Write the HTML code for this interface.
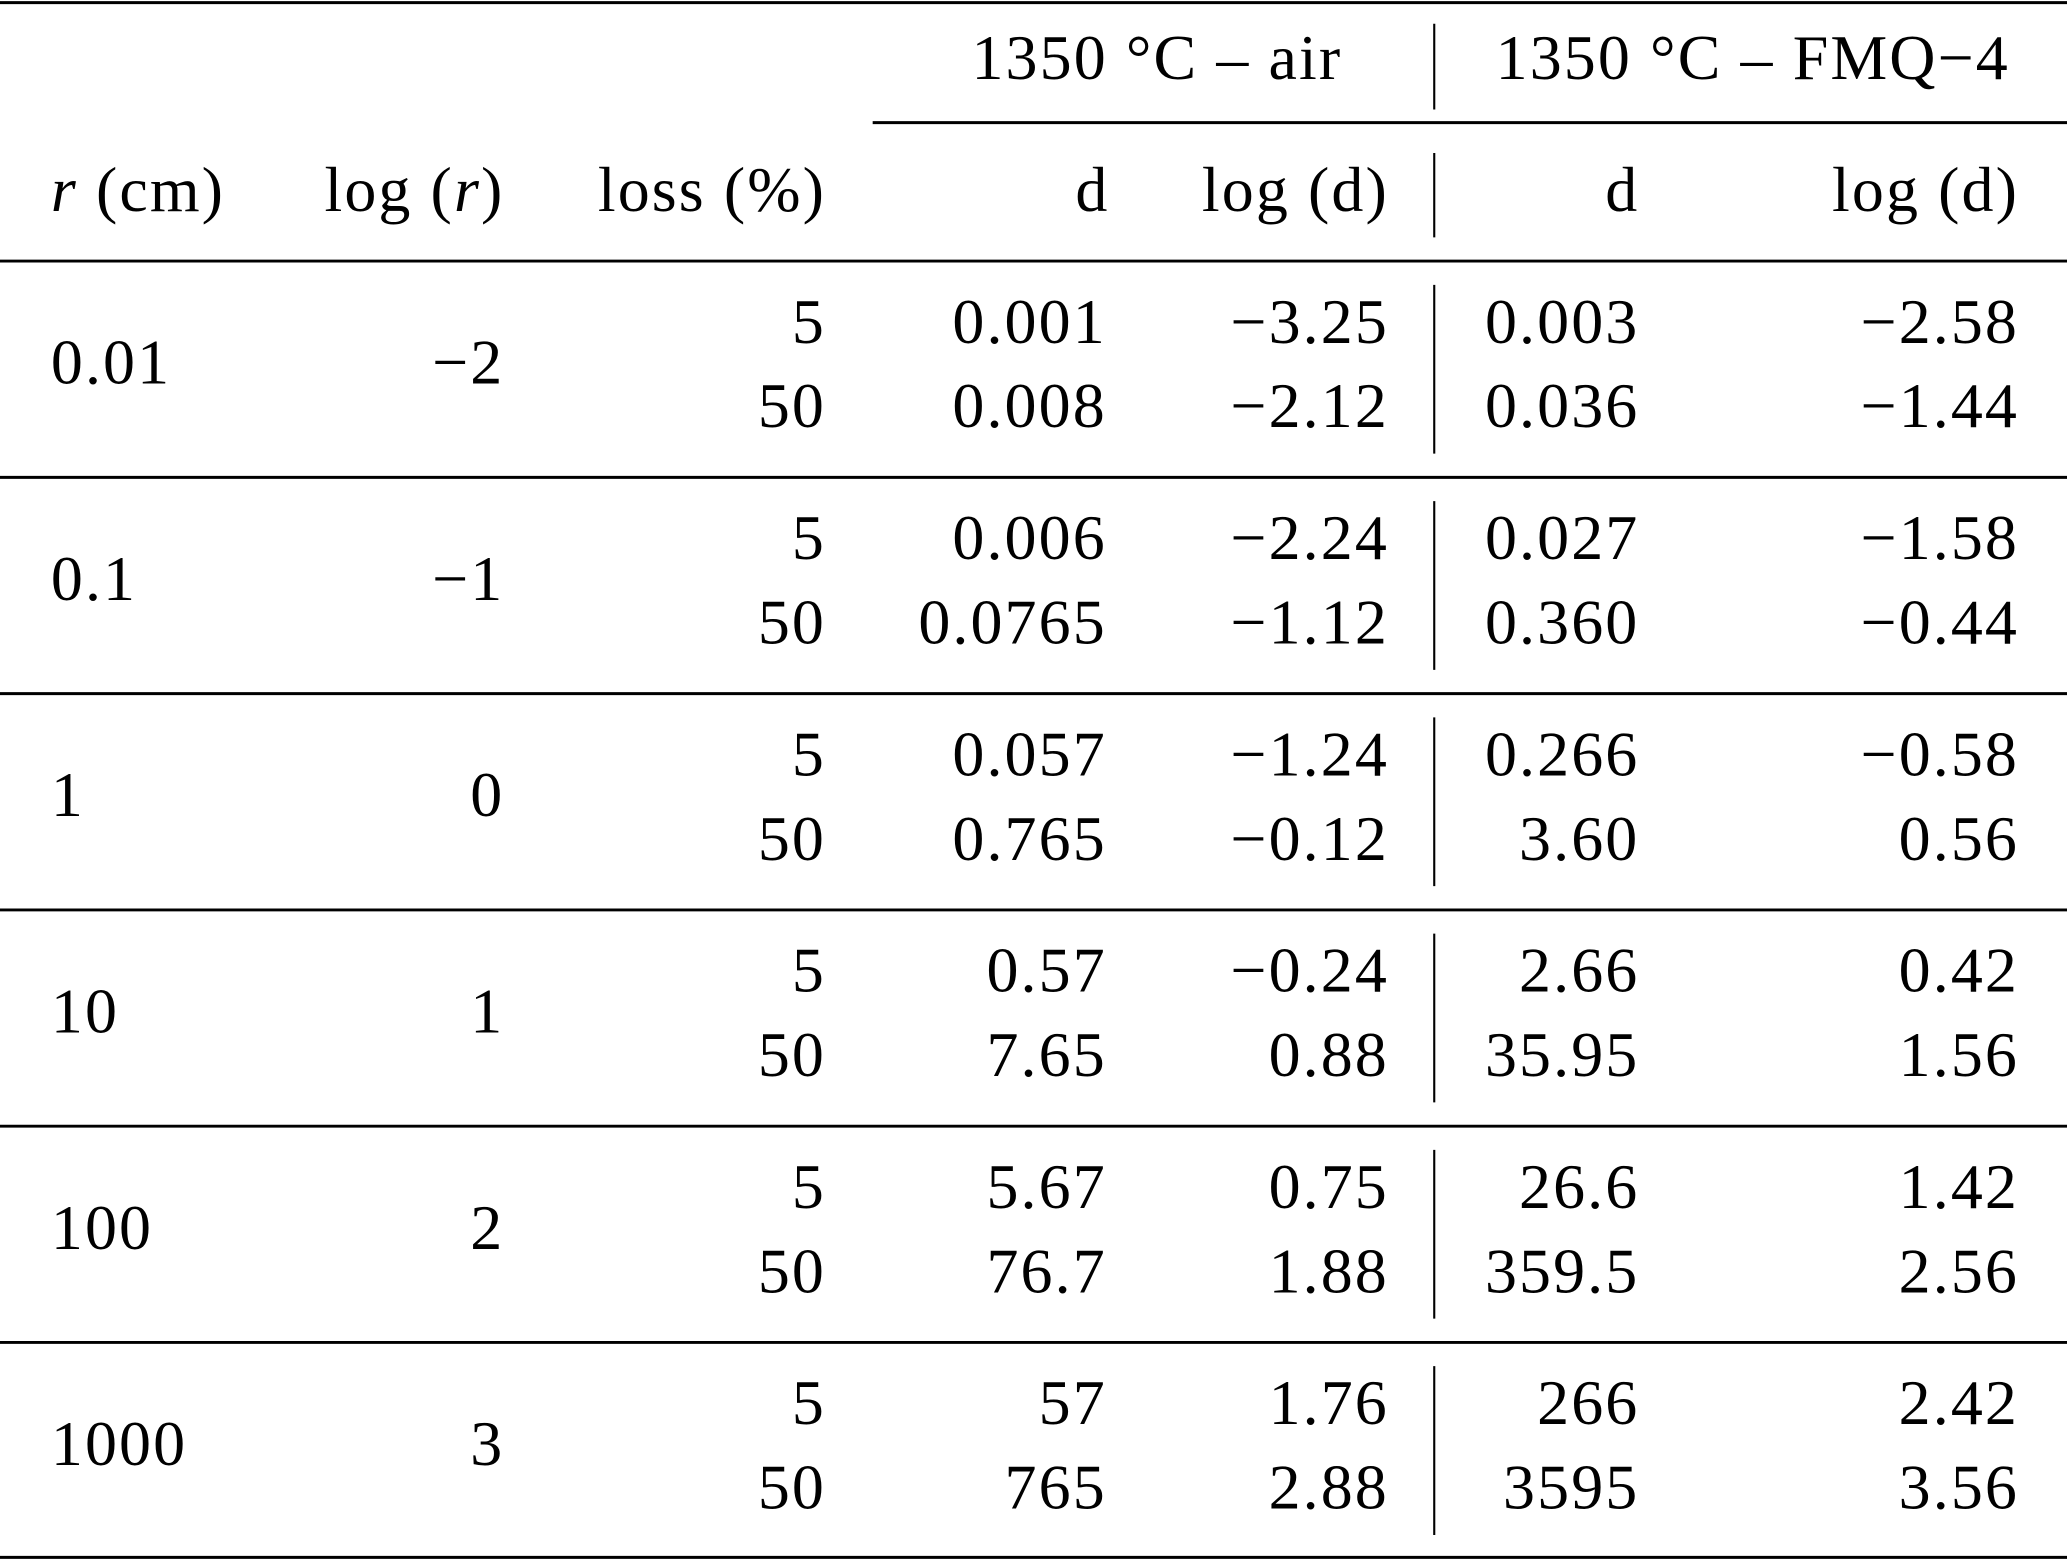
<!DOCTYPE html>
<html><head><meta charset="utf-8"><style>
html,body{margin:0;padding:0;background:#fff}
svg{display:block}
text{font-family:"Liberation Serif",serif;font-size:48.5px;fill:#000;letter-spacing:1.6px}
</style></head><body>
<svg width="2067" height="1560" viewBox="0 0 1568 1183" preserveAspectRatio="none" xmlns="http://www.w3.org/2000/svg">
<g stroke="#000" stroke-width="2.2">
<line x1="0" y1="2" x2="1568" y2="2"/>
<line x1="662" y1="93" x2="1568" y2="93"/>
<line x1="0" y1="198" x2="1568" y2="198"/>
<line x1="0" y1="362" x2="1568" y2="362"/>
<line x1="0" y1="526" x2="1568" y2="526"/>
<line x1="0" y1="690" x2="1568" y2="690"/>
<line x1="0" y1="854" x2="1568" y2="854"/>
<line x1="0" y1="1018" x2="1568" y2="1018"/>
<line x1="0" y1="1181" x2="1568" y2="1181"/>
</g>
<g stroke="#000" stroke-width="1.6">
<line x1="1088" y1="18" x2="1088" y2="83"/>
<line x1="1088" y1="116" x2="1088" y2="180"/>
<line x1="1088" y1="216" x2="1088" y2="344"/>
<line x1="1088" y1="380" x2="1088" y2="508"/>
<line x1="1088" y1="544" x2="1088" y2="672"/>
<line x1="1088" y1="708" x2="1088" y2="836"/>
<line x1="1088" y1="872" x2="1088" y2="1000"/>
<line x1="1088" y1="1036" x2="1088" y2="1164"/>
</g>
<g transform="translate(1.6,-2)">
<text x="876" y="62" text-anchor="middle">1350 °C – air</text>
<text x="1328" y="62" text-anchor="middle">1350 °C – FMQ−4</text>
<text x="37" y="162"><tspan font-style="italic">r</tspan> (cm)</text>
<text x="381" y="162" text-anchor="end">log (<tspan font-style="italic">r</tspan>)</text>
<text x="625" y="162" text-anchor="end">loss (%)</text>
<text x="840" y="162" text-anchor="end">d</text>
<text x="1052" y="162" text-anchor="end">log (d)</text>
<text x="1242" y="162" text-anchor="end">d</text>
<text x="1530" y="162" text-anchor="end">log (d)</text>

<text x="37" y="293">0.01</text><text x="381" y="293" text-anchor="end">−2</text>
<text x="625" y="262" text-anchor="end">5</text><text x="838" y="262" text-anchor="end">0.001</text><text x="1052" y="262" text-anchor="end">−3.25</text><text x="1242" y="262" text-anchor="end">0.003</text><text x="1530" y="262" text-anchor="end">−2.58</text>
<text x="625" y="326" text-anchor="end">50</text><text x="838" y="326" text-anchor="end">0.008</text><text x="1052" y="326" text-anchor="end">−2.12</text><text x="1242" y="326" text-anchor="end">0.036</text><text x="1530" y="326" text-anchor="end">−1.44</text>

<text x="37" y="457">0.1</text><text x="381" y="457" text-anchor="end">−1</text>
<text x="625" y="426" text-anchor="end">5</text><text x="838" y="426" text-anchor="end">0.006</text><text x="1052" y="426" text-anchor="end">−2.24</text><text x="1242" y="426" text-anchor="end">0.027</text><text x="1530" y="426" text-anchor="end">−1.58</text>
<text x="625" y="490" text-anchor="end">50</text><text x="838" y="490" text-anchor="end">0.0765</text><text x="1052" y="490" text-anchor="end">−1.12</text><text x="1242" y="490" text-anchor="end">0.360</text><text x="1530" y="490" text-anchor="end">−0.44</text>

<text x="37" y="621">1</text><text x="381" y="621" text-anchor="end">0</text>
<text x="625" y="590" text-anchor="end">5</text><text x="838" y="590" text-anchor="end">0.057</text><text x="1052" y="590" text-anchor="end">−1.24</text><text x="1242" y="590" text-anchor="end">0.266</text><text x="1530" y="590" text-anchor="end">−0.58</text>
<text x="625" y="654" text-anchor="end">50</text><text x="838" y="654" text-anchor="end">0.765</text><text x="1052" y="654" text-anchor="end">−0.12</text><text x="1242" y="654" text-anchor="end">3.60</text><text x="1530" y="654" text-anchor="end">0.56</text>

<text x="37" y="785">10</text><text x="381" y="785" text-anchor="end">1</text>
<text x="625" y="754" text-anchor="end">5</text><text x="838" y="754" text-anchor="end">0.57</text><text x="1052" y="754" text-anchor="end">−0.24</text><text x="1242" y="754" text-anchor="end">2.66</text><text x="1530" y="754" text-anchor="end">0.42</text>
<text x="625" y="818" text-anchor="end">50</text><text x="838" y="818" text-anchor="end">7.65</text><text x="1052" y="818" text-anchor="end">0.88</text><text x="1242" y="818" text-anchor="end">35.95</text><text x="1530" y="818" text-anchor="end">1.56</text>

<text x="37" y="949">100</text><text x="381" y="949" text-anchor="end">2</text>
<text x="625" y="918" text-anchor="end">5</text><text x="838" y="918" text-anchor="end">5.67</text><text x="1052" y="918" text-anchor="end">0.75</text><text x="1242" y="918" text-anchor="end">26.6</text><text x="1530" y="918" text-anchor="end">1.42</text>
<text x="625" y="982" text-anchor="end">50</text><text x="838" y="982" text-anchor="end">76.7</text><text x="1052" y="982" text-anchor="end">1.88</text><text x="1242" y="982" text-anchor="end">359.5</text><text x="1530" y="982" text-anchor="end">2.56</text>

<text x="37" y="1113">1000</text><text x="381" y="1113" text-anchor="end">3</text>
<text x="625" y="1082" text-anchor="end">5</text><text x="838" y="1082" text-anchor="end">57</text><text x="1052" y="1082" text-anchor="end">1.76</text><text x="1242" y="1082" text-anchor="end">266</text><text x="1530" y="1082" text-anchor="end">2.42</text>
<text x="625" y="1146" text-anchor="end">50</text><text x="838" y="1146" text-anchor="end">765</text><text x="1052" y="1146" text-anchor="end">2.88</text><text x="1242" y="1146" text-anchor="end">3595</text><text x="1530" y="1146" text-anchor="end">3.56</text>
</g>
</svg>
</body></html>
